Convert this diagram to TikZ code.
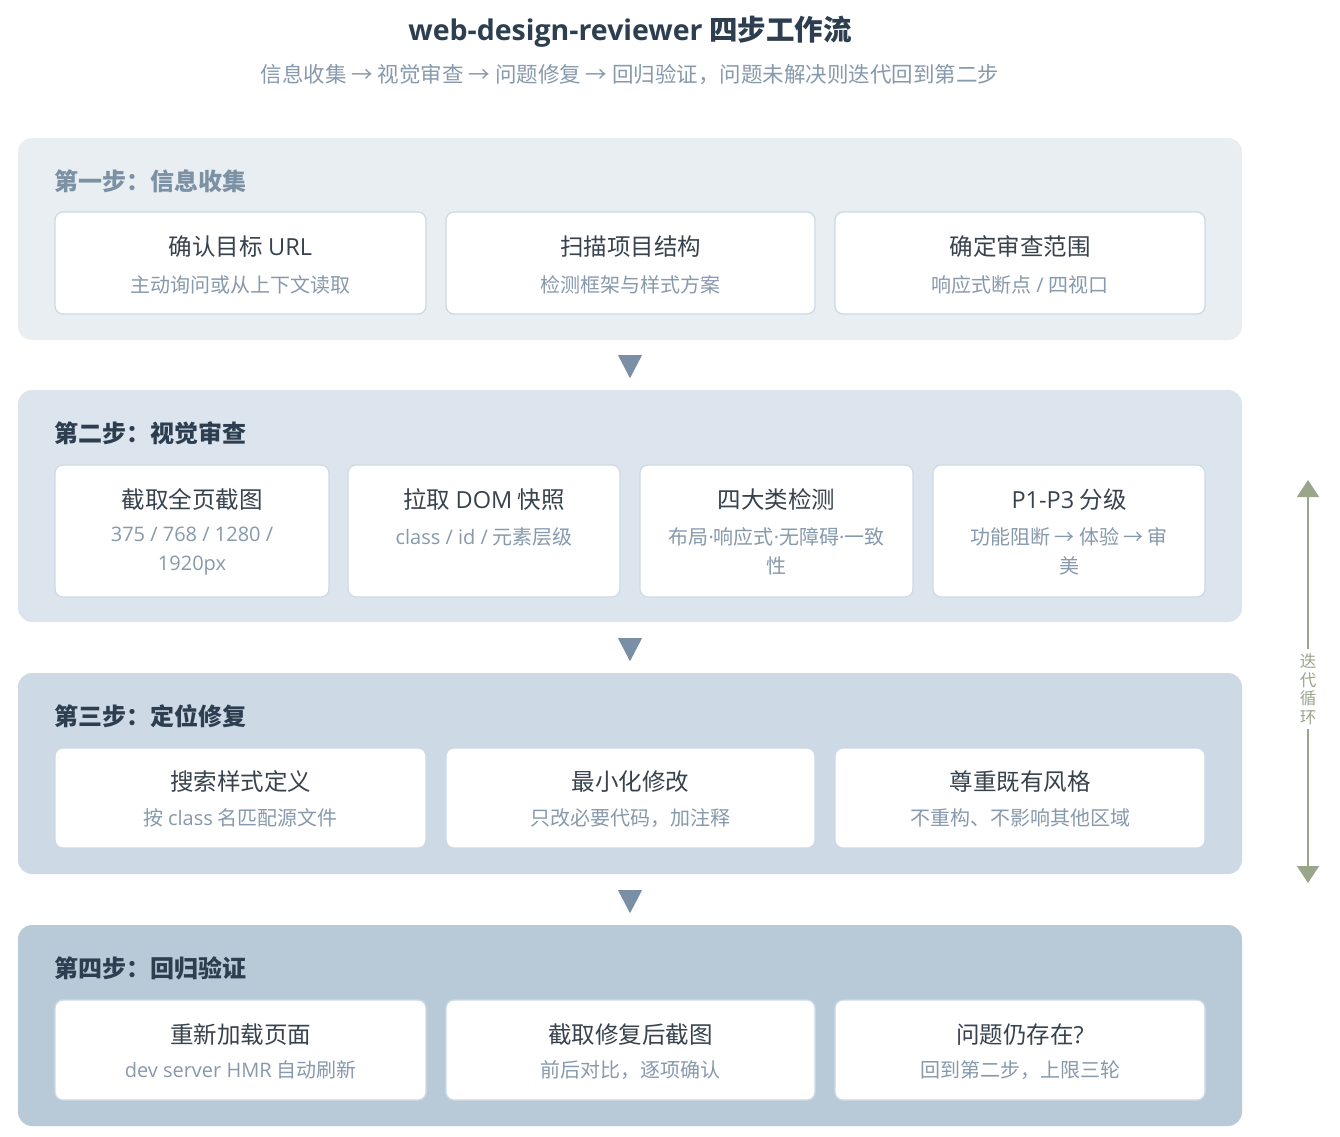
\documentclass[tikz,border=0pt]{standalone}
\usepackage{fontspec}
\setmainfont{Noto Sans CJK SC}
\newfontfamily\lat{Open Sans}
\usetikzlibrary{arrows.meta,fit}
\definecolor{panelA}{HTML}{E8EEF2}
\definecolor{panelB}{HTML}{DCE5ED}
\definecolor{panelC}{HTML}{CDD9E4}
\definecolor{panelD}{HTML}{B8CAD8}
\definecolor{headA}{HTML}{7D91A5}
\definecolor{headdark}{HTML}{2C3E50}
\definecolor{cardborder}{HTML}{CCDAE5}
\definecolor{titlecol}{HTML}{37424D}
\definecolor{subcol}{HTML}{8799AC}
\definecolor{tricol}{HTML}{7A8FA6}
\definecolor{loopcol}{HTML}{9AA68C}
\newcommand\stepcard[9]{%
  \node[card, fit={(#2,#4) (#3,#5)}] (#1) {};
  \node[ctitle] (#1t) at ([yshift=-#9pt]#1.north) {#6};
  \node[csub] (#1s) at ([yshift=-#8pt]#1.north) {#7};
}
\newcommand\md{{\lat ·}}
\begin{document}
\begin{tikzpicture}[x=1pt,y=-1pt,
  panel/.style={rounded corners=14pt, inner sep=0pt, draw=none},
  card/.style={draw=cardborder, line width=1.3pt, fill=white, rounded corners=8pt, inner sep=0pt},
  ctitle/.style={font=\fontsize{23.5}{28}\selectfont, text=titlecol, inner sep=0pt},
  csub/.style={font=\fontsize{20}{29}\selectfont, text=subcol, align=center, inner sep=0pt},
  head/.style={font=\fontsize{24}{28}\selectfont\bfseries, anchor=west, inner sep=0pt},
  tri/.style={fill=tricol},
  loopline/.style={draw=loopcol, line width=1.3pt},
]
\useasboundingbox (0,0) rectangle (1340,1136);
\fill[white] (0,0) rectangle (1340,1136);

% title
\node[font=\fontsize{28.5}{34}\selectfont\bfseries, text=headdark, inner sep=0pt] (title) at (630,32) {{\lat web-design-reviewer} 四步工作流};
\node[font=\fontsize{21.5}{26}\selectfont, text=subcol, inner sep=0pt] (subtitle) at (630,75) {信息收集 → 视觉审查 → 问题修复 → 回归验证，问题未解决则迭代回到第二步};

% panels
\node[panel, fill=panelA, fit={(18,138) (1242,340)}] (p1) {};
\node[panel, fill=panelB, fit={(18,390) (1242,622)}] (p2) {};
\node[panel, fill=panelC, fit={(18,673) (1242,874)}] (p3) {};
\node[panel, fill=panelD, fit={(18,925) (1242,1126)}] (p4) {};

\node[head, text=headA] (h1) at (54,181) {第一步：信息收集};
\node[head, text=headdark] (h2) at (54,433) {第二步：视觉审查};
\node[head, text=headdark] (h3) at (54,716) {第三步：定位修复};
\node[head, text=headdark] (h4) at (54,968) {第四步：回归验证};

% step 1 cards
\stepcard{c11}{55}{426}{212}{314}{确认目标 {\lat URL}}{主动询问或从上下文读取}{73.5}{35.5}
\stepcard{c12}{446}{815}{212}{314}{扫描项目结构}{检测框架与样式方案}{73.5}{35.5}
\stepcard{c13}{835}{1205}{212}{314}{确定审查范围}{响应式断点 {\lat /} 四视口}{73.5}{35.5}

% step 2 cards
\stepcard{c21}{55}{329}{465}{597}{截取全页截图}{{\lat 375 / 768 / 1280 /}\\{\lat 1920px}}{87}{35}
\stepcard{c22}{348}{620}{465}{597}{拉取 {\lat DOM} 快照}{{\lat class / id /} 元素层级}{72.5}{35}
\stepcard{c23}{640}{913}{465}{597}{四大类检测}{布局\md 响应式\md 无障碍\md 一致\\性}{87}{35}
\stepcard{c24}{933}{1205}{465}{597}{{\lat P1-P3} 分级}{功能阻断 → 体验 → 审\\美}{87}{35}

% step 3 cards
\stepcard{c31}{55}{426}{748}{848}{搜索样式定义}{按 {\lat class} 名匹配源文件}{70.5}{34}
\stepcard{c32}{446}{815}{748}{848}{最小化修改}{只改必要代码，加注释}{70.5}{34}
\stepcard{c33}{835}{1205}{748}{848}{尊重既有风格}{不重构、不影响其他区域}{70.5}{34}

% step 4 cards
\stepcard{c41}{55}{426}{1000}{1100}{重新加载页面}{{\lat dev server HMR} 自动刷新}{70.5}{35}
\stepcard{c42}{446}{815}{1000}{1100}{截取修复后截图}{前后对比，逐项确认}{70.5}{35}
\stepcard{c43}{835}{1205}{1000}{1100}{问题仍存在{\lat ?}}{回到第二步，上限三轮}{70.5}{35}

% flow triangles
\fill[tri] (p1.south) ++(-12,15) -- ++(24,0) -- ++(-12,23) -- cycle;
\fill[tri] (p2.south) ++(-12,16) -- ++(24,0) -- ++(-12,23) -- cycle;
\fill[tri] (p3.south) ++(-12,16) -- ++(24,0) -- ++(-12,23) -- cycle;

% loop arrow
\coordinate (lt) at (1308,480);
\coordinate (lb) at (1308,883);
\node[font=\fontsize{16.5}{18.5}\selectfont, text=loopcol, align=center, inner xsep=0pt, inner ysep=4pt] (loop) at (1308,689) {迭\\代\\循\\环};
\draw[loopline, -{Triangle[width=22pt,length=17pt]}] (loop.north) -- (lt);
\draw[loopline, -{Triangle[width=22pt,length=17pt]}] (loop.south) -- (lb);
\end{tikzpicture}
\end{document}
